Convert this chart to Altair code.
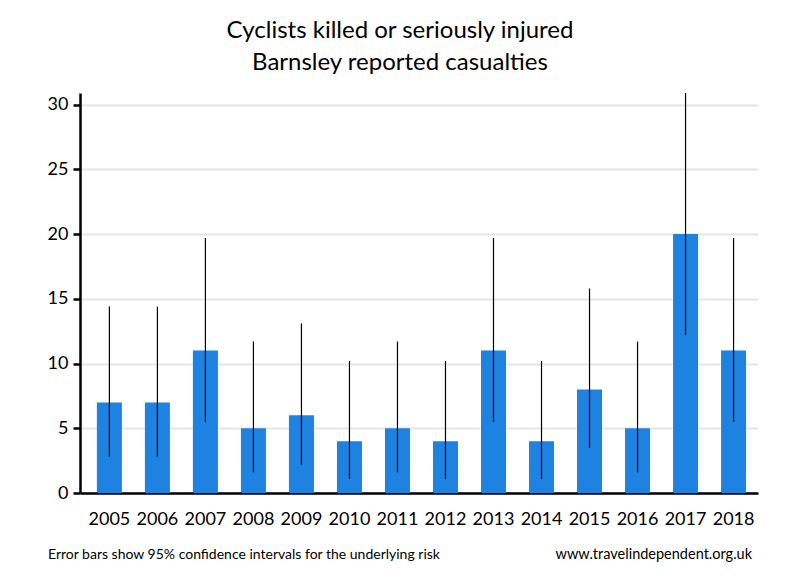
import altair as alt
import pandas as pd

years = ["2005", "2006", "2007", "2008", "2009", "2010", "2011", "2012", "2013", "2014", "2015", "2016", "2017", "2018"]
casualties = [7, 7, 11, 5, 6, 4, 5, 4, 11, 4, 8, 5, 20, 11]
ci_low = [2.8, 2.8, 5.5, 1.6, 2.2, 1.1, 1.6, 1.1, 5.5, 1.1, 3.5, 1.6, 12.2, 5.5]
ci_high = [14.4, 14.4, 19.7, 11.7, 13.1, 10.2, 11.7, 10.2, 19.7, 10.2, 15.8, 11.7, 30.9, 19.7]

df = pd.DataFrame({"year": years, "value": casualties, "lo": ci_low, "hi": ci_high})

FONT = "Lato"

x = alt.X("year:N", sort=years,
          scale=alt.Scale(paddingInner=0.479, paddingOuter=0.30, align=0.586),
          axis=alt.Axis(title=None, labelAngle=0, ticks=False, domainColor="black",
                        domainWidth=2.5, labelFontSize=18, labelPadding=17,
                        labelColor="black", labelFont=FONT, grid=False))
y = alt.Y("value:Q",
          scale=alt.Scale(domain=[0, 30.9], nice=False),
          axis=alt.Axis(title=None, values=[0, 5, 10, 15, 20, 25, 30], domainColor="black",
                        domainWidth=2.5, tickColor="black", tickWidth=2.5, tickSize=7,
                        labelFontSize=18, labelPadding=5, labelColor="black", labelFont=FONT,
                        grid=True, gridColor="#e6e6e6", gridWidth=2))

bars = alt.Chart(df).mark_bar(color="#1e82e0").encode(x=x, y=y)
errs = alt.Chart(df).mark_rule(color="black", strokeWidth=1.2).encode(
    x=alt.X("year:N", sort=years), y="lo:Q", y2="hi:Q")

note_left = alt.Chart(pd.DataFrame({"t": ["Error bars show 95% confidence intervals for the underlying risk"]})).mark_text(
    align="left", baseline="alphabetic", fontSize=14, font=FONT, color="black").encode(
    text="t:N", x=alt.value(-32), y=alt.value(466))
note_right = alt.Chart(pd.DataFrame({"t": ["www.travelindependent.org.uk"]})).mark_text(
    align="right", baseline="alphabetic", fontSize=14.5, font=FONT, color="black").encode(
    text="t:N", x=alt.value(672), y=alt.value(466))

chart = alt.layer(bars, errs, note_left, note_right).properties(
    width=678, height=400,
    title=alt.Title(["Cyclists killed or seriously injured", "Barnsley reported casualties"],
                    anchor="middle", dx=-19, fontSize=24, font=FONT, fontWeight="normal",
                    color="black", lineHeight=32, offset=17),
    autosize=alt.AutoSizeParams(type="none"),
    padding={"left": 72, "top": 85, "right": 20, "bottom": 79},
).configure_view(stroke=None)

chart.save("out.html", embed_options={"renderer": "svg", "actions": False})
